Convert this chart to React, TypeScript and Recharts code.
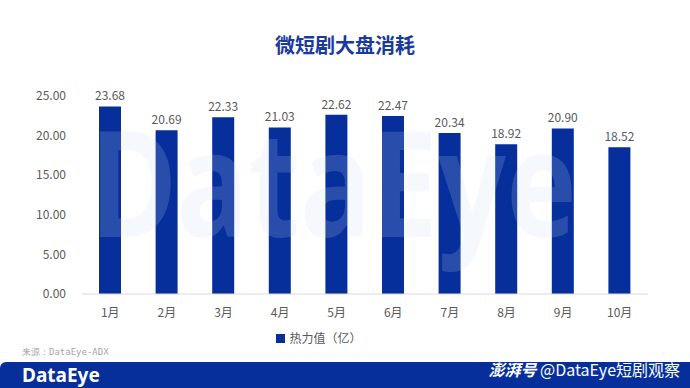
import React from 'react';
import { BarChart, Bar, XAxis, YAxis, Legend, LabelList } from 'recharts';

const months = ['1月', '2月', '3月', '4月', '5月', '6月', '7月', '8月', '9月', '10月'];
const heat = [23.68, 20.69, 22.33, 21.03, 22.62, 22.47, 20.34, 18.92, 20.9, 18.52];
const yTicks = [0, 5, 10, 15, 20, 25];

const data = months.map((m, i) => ({ month: m, value: heat[i] }));

const font = '"Microsoft YaHei", "Noto Sans CJK SC", "Noto Sans", sans-serif';
const BLUE = '#072f9b';

const App: React.FC = () => (
  <div style={{ position: 'absolute', left: 0, top: 0, width: 690, height: 388, background: '#fff', overflow: 'hidden', fontFamily: font }}>
    <div style={{ position: 'absolute', top: 30, width: 690, textAlign: 'center', fontSize: 20, fontWeight: 700, color: '#1a3a9e' }}>
      微短剧大盘消耗
    </div>

    <BarChart width={690} height={388} data={data} margin={{ top: 96, right: 42, bottom: 34, left: 0 }} barSize={22}>
      <XAxis
        dataKey="month"
        tickLine={false}
        axisLine={{ stroke: '#d9d9d9' }}
        tick={{ fill: '#595959', fontSize: 12, fontFamily: font }}
        tickMargin={8}
      />
      <YAxis
        domain={[0, 25]}
        ticks={yTicks}
        width={82}
        tickLine={false}
        axisLine={false}
        tickFormatter={(v: number) => v.toFixed(2)}
        tick={{ fill: '#595959', fontSize: 12, fontFamily: font }}
        tickMargin={10}
      />
      <Legend
        verticalAlign="bottom"
        iconType="square"
        iconSize={9}
        height={30}
        formatter={() => <span style={{ color: '#595959', fontSize: 12 }}>热力值（亿）</span>}
      />
      <Bar dataKey="value" name="热力值（亿）" fill={BLUE} isAnimationActive={false}>
        <LabelList
          dataKey="value"
          position="top"
          offset={6}
          formatter={(v: number) => v.toFixed(2)}
          style={{ fill: '#595959', fontSize: 12, fontFamily: font }}
        />
      </Bar>
    </BarChart>

    {/* faint watermark */}
    <svg width={690} height={388} style={{ position: 'absolute', left: 0, top: 0, pointerEvents: 'none' }}>
      <text
        x={90}
        y={237}
        fontSize={148}
        fontWeight={700}
        textLength={487}
        lengthAdjust="spacingAndGlyphs"
        fill="rgb(200,215,245)"
        fillOpacity={0.18}
        fontFamily='"Noto Sans", sans-serif'
      >
        DataEye
      </text>
    </svg>

    <div style={{ position: 'absolute', left: 22, top: 346, fontSize: 9, color: '#a6a6a6', fontFamily: '"DejaVu Sans Mono", monospace' }}>
      来源：DataEye-ADX
    </div>

    <div style={{ position: 'absolute', left: 0, top: 362, width: 690, height: 26, background: BLUE, borderTopLeftRadius: 6 }}>
      <div style={{ position: 'absolute', left: 22, top: 1, fontSize: 19, fontWeight: 700, color: '#fff', fontFamily: '"Noto Sans", sans-serif', lineHeight: '24px' }}>
        DataEye
      </div>
      <div style={{ position: 'absolute', right: 10, top: -5, fontSize: 16, color: '#fff', lineHeight: '24px' }}>
        <b style={{ fontStyle: 'italic' }}>澎湃号</b> @DataEye短剧观察
      </div>
    </div>
  </div>
);

export default App;
